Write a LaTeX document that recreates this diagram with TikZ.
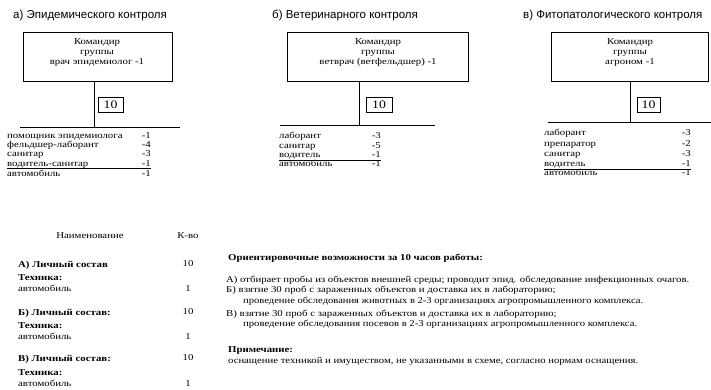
\documentclass[tikz,border=0pt]{standalone}
\usepackage{fontspec}
\usepackage{graphicx}
\setmainfont{Liberation Serif}[FakeStretch=1.2]
\newfontfamily\arial{Liberation Sans}
\newcommand{\fitw}[2]{\resizebox{#1pt}{\height}{#2}}
\begin{document}
\begin{tikzpicture}[x=1pt,y=-1pt,
  ttl/.style={font=\arial\fontsize{11.5}{13}\selectfont, anchor=base west, inner sep=0, yshift=-4pt},
  cmd/.style={draw, line width=0.8pt, inner sep=0},
  cmdt/.style={align=center, font=\fontsize{9}{10}\selectfont, inner sep=0},
  num/.style={draw, line width=0.7pt, font=\fontsize{11.5}{12}\selectfont, inner sep=0},
  itm/.style={font=\fontsize{9}{10}\selectfont, anchor=base west, inner sep=0, yshift=-2.5pt},
  val/.style={font=\fontsize{9}{10}\selectfont, anchor=base east, inner sep=0, yshift=-2.5pt},
  tb/.style={font=\fontsize{9}{10}\selectfont, anchor=base west, inner sep=0, yshift=-2.7pt},
  tbb/.style={font=\bfseries\fontsize{9}{10}\selectfont, anchor=base west, inner sep=0, yshift=-3pt},
  tv/.style={font=\fontsize{9}{10}\selectfont, anchor=base, inner sep=0, yshift=-2.7pt},
  bar/.style={line width=0.9pt},
  ul/.style={line width=0.6pt}
]
\useasboundingbox[fill=white] (0,0) rectangle (711,390);

% titles
\node[ttl] (tA) at (13,15) {а) Эпидемического контроля};
\node[ttl] (tB) at (272,15) {б) Ветеринарного контроля};
\node[ttl] (tC) at (523,15) {в) Фитопатологического контроля};

% command boxes
\node[cmd, minimum width=149, minimum height=49] (bA) at (97.5,56.5) {};
\node[cmd, minimum width=181, minimum height=49] (bB) at (377.5,56.5) {};
\node[cmd, minimum width=157, minimum height=49] (bC) at (629.5,56.5) {};
\node[cmdt] (bAt) at (97,53) {Командир\\группы\\врач эпидемиолог -1};
\node[cmdt] (bBt) at (378,53) {Командир\\группы\\ветврач (ветфельдшер) -1};
\node[cmdt] (bCt) at (630,53) {Командир\\группы\\агроном -1};

% horizontal bars
\coordinate (hA1) at (20,127); \coordinate (hA2) at (180,127);
\coordinate (hB1) at (280,125); \coordinate (hB2) at (435,125);
\coordinate (hC1) at (548,122); \coordinate (hC2) at (711,122);
\draw[bar] (hA1) -- (hA2);
\draw[bar] (hB1) -- (hB2);
\draw[bar] (hC1) -- (hC2);
\coordinate (jA) at (94,127);
\coordinate (jB) at (359,125);
\coordinate (jC) at (630,122);
\draw[bar] (bA.south -| jA) -- (jA);
\draw[bar] (bB.south -| jB) -- (jB);
\draw[bar] (bC.south -| jC) -- (jC);

% number boxes
\node[num, minimum width=25, minimum height=15] (nA) at (110.5,104.5) {10};
\node[num, minimum width=26, minimum height=15] (nB) at (379,104.5) {10};
\node[num, minimum width=23, minimum height=15] (nC) at (648.5,105) {10};

% list A
\node[itm] (a1) at (7,136.5) {помощник эпидемиолога};  \node[val] (a1v) at (151,136.5) {-1};
\node[itm] (a2) at (7,145.5) {фельдшер-лаборант};      \node[val] (a2v) at (151,145.5) {-4};
\node[itm] (a3) at (7,154.5) {санитар};                \node[val] (a3v) at (151,154.5) {-3};
\node[itm] (a4) at (7,163.5) {водитель-санитар};       \node[val] (a4v) at (151,163.5) {-1};
\node[itm] (a5) at (7,173.5) {автомобиль};             \node[val] (a5v) at (151,173.5) {-1};
\coordinate (uA1) at (7,168.5); \coordinate (uA2) at (151,168.5);
\draw[ul] (uA1) -- (uA2);

% list B
\node[itm] (b1) at (279,136) {лаборант};    \node[val] (b1v) at (381,136) {-3};
\node[itm] (b2) at (279,146) {санитар};     \node[val] (b2v) at (381,146) {-5};
\node[itm] (b3) at (279,155) {водитель};    \node[val] (b3v) at (381,155) {-1};
\node[itm] (b4) at (279,164) {автомобиль};  \node[val] (b4v) at (381,164) {-1};
\coordinate (uB1) at (279,160.5); \coordinate (uB2) at (381,160.5);
\draw[ul] (uB1) -- (uB2);

% list C
\node[itm] (c1) at (544,133) {лаборант};    \node[val] (c1v) at (691,133) {-3};
\node[itm] (c2) at (544,144) {препаратор};  \node[val] (c2v) at (691,144) {-2};
\node[itm] (c3) at (544,154) {санитар};     \node[val] (c3v) at (691,154) {-3};
\node[itm] (c4) at (544,164) {водитель};    \node[val] (c4v) at (691,164) {-1};
\node[itm] (c5) at (544,173) {автомобиль};  \node[val] (c5v) at (691,173) {-1};
\coordinate (uC1) at (544,169.5); \coordinate (uC2) at (691,169.5);
\draw[ul] (uC1) -- (uC2);

% bottom-left table
\node[tv] (h1) at (90,236) {Наименование};
\node[tv] (h2) at (188,236) {К-во};
\node[tbb] (r1) at (18,264) {А) Личный состав};   \node[tv] (r1v) at (188,264) {10};
\node[tbb] (r2) at (18,277) {Техника:};
\node[tb]  (r3) at (18,289) {автомобиль};         \node[tv] (r3v) at (188,289) {1};
\node[tbb] (r4) at (18,312) {Б) Личный состав:};  \node[tv] (r4v) at (188,312) {10};
\node[tbb] (r5) at (18,325) {Техника:};
\node[tb]  (r6) at (18,337) {автомобиль};         \node[tv] (r6v) at (188,337) {1};
\node[tbb] (r7) at (18,358) {В) Личный состав:};  \node[tv] (r7v) at (188,358) {10};
\node[tbb] (r8) at (18,372) {Техника:};
\node[tb]  (r9) at (18,384) {автомобиль};         \node[tv] (r9v) at (188,384) {1};

% right text
\node[tbb] (p0) at (228,257) {Ориентировочные возможности за 10 часов работы:};
\node[tb] (p1) at (226,280) {\fitw{463}{А) отбирает пробы из объектов внешней среды; проводит эпид. обследование инфекционных очагов.}};
\node[tb] (p2) at (226,290) {Б) взятие 30 проб с зараженных объектов и доставка их в лабораторию;};
\node[tb] (p3) at (243,301) {\fitw{400}{проведение обследования животных в 2-3 организациях агропромышленного комплекса.}};
\node[tb] (p4) at (226,314) {В) взятие 30 проб с зараженных объектов и доставка их в лабораторию;};
\node[tb] (p5) at (243,324) {\fitw{394}{проведение обследования посевов в 2-3 организациях агропромышленного комплекса.}};
\node[tbb] (p6) at (228,349) {Примечание:};
\node[tb] (p7) at (228,361) {\fitw{410}{оснащение техникой и имуществом, не указанными в схеме, согласно нормам оснащения.}};
\end{tikzpicture}
\end{document}
